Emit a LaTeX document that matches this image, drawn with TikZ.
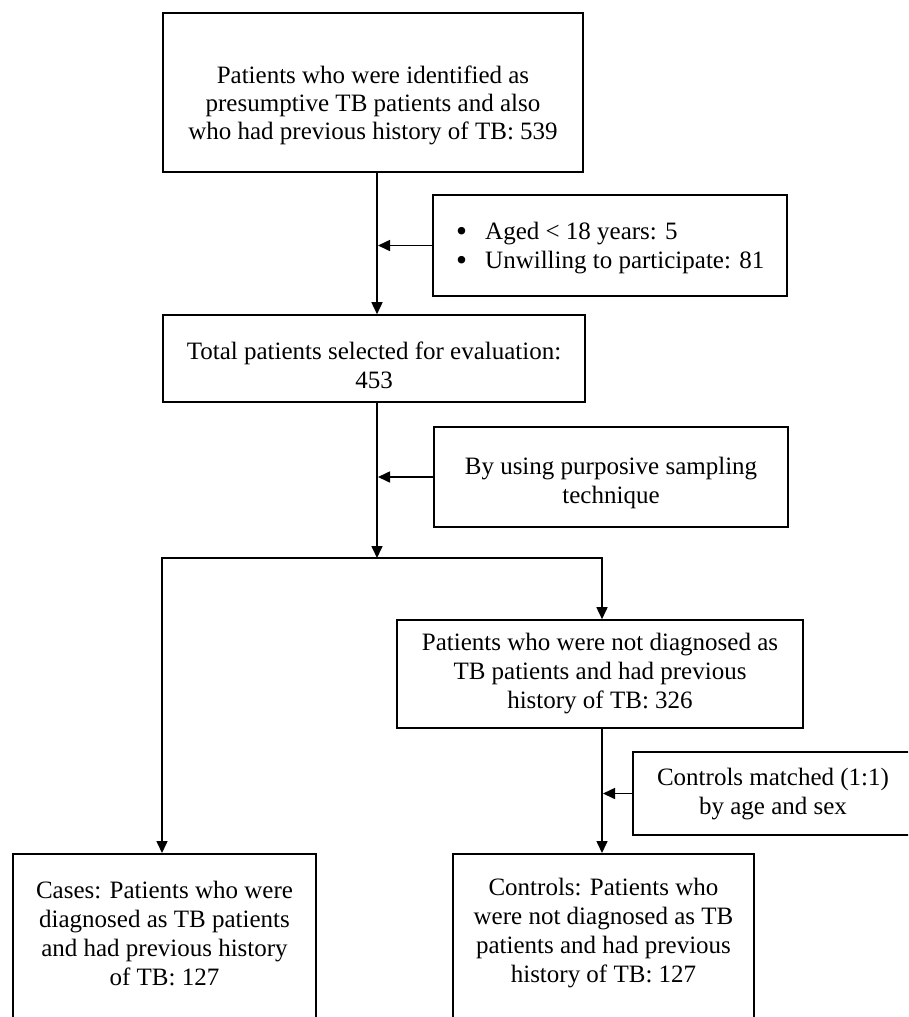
\documentclass[tikz,border=0pt]{standalone}
\usepackage{fontspec}
\setmainfont{Liberation Serif}
\usetikzlibrary{arrows.meta}
\newcommand{\bigbul}{\makebox[29pt][l]{\raisebox{-2pt}{\scalebox{1.25}{\textbullet}}}}
\tikzset{
  boxframe/.style={draw=black, line width=1.6pt, rectangle, inner sep=0pt},
  txt/.style={font=\fontsize{25}{29}\selectfont, align=center, inner sep=0pt},
  arr/.style={line width=1.6pt, -{Triangle[length=12pt,width=11pt]}},
  ln/.style={line width=1.6pt}
}
\begin{document}
\begin{tikzpicture}[x=1pt,y=-1pt]
\clip (0,0) rectangle (908,1017);
\fill[white] (0,0) rectangle (908,1017);
% boxes
\node[boxframe, minimum width=420pt, minimum height=159pt] (b1) at (373,92.5) {};
\node[txt, font=\fontsize{25}{28}\selectfont] (t1) at (373,105) {Patients who were identified as\\presumptive TB patients and also\\who had previous history of TB: 539};
\node[boxframe, minimum width=354pt, minimum height=101pt] (ex) at (610,245.5) {};
\node[txt, align=left, anchor=west] (tex) at (456,248) {\bigbul Aged < 18 years: 5\\\bigbul Unwilling to participate: 81};
\node[boxframe, minimum width=422pt, minimum height=87pt] (b2) at (374,358.5) {};
\node[txt] (t2) at (374,365) {Total patients selected for evaluation:\\453};
\node[boxframe, minimum width=354pt, minimum height=100pt] (pur) at (611,477) {};
\node[txt] (tpur) at (611,483) {By using purposive sampling\\technique};
\node[boxframe, minimum width=406pt, minimum height=108pt] (nd) at (600,674) {};
\node[txt] (tnd) at (600,674) {Patients who were not diagnosed as\\TB patients and had previous\\history of TB: 326};
\node[boxframe, minimum width=285pt, minimum height=83pt] (cm) at (775.5,793.5) {};
\node[txt] (tcm) at (773,794) {Controls matched (1:1)\\by age and sex};
\node[boxframe, minimum width=303pt, minimum height=200pt, anchor=north] (cases) at (164.5,853) {};
\node[txt] (tcases) at (164.5,933) {Cases: Patients who were\\diagnosed as TB patients\\and had previous history\\of TB: 127};
\node[boxframe, minimum width=301pt, minimum height=200pt, anchor=north] (ctrl) at (603.5,853) {};
\node[txt] (tctrl) at (603.5,933) {Controls: Patients who\\were not diagnosed as TB\\patients and had previous\\history of TB: 127};
% connectors
\coordinate (spine) at (377,0);
\coordinate (spineb) at (602,0);
\coordinate (br) at (377,558);
\draw[arr] (b1.south -| spine) -- (b2.north -| spine);
\draw[arr] (ex.west) -- ([xshift=1pt]ex.west -| spine);
\draw[arr] (b2.south -| spine) -- (br);
\draw[arr] (pur.west) -- ([xshift=1pt]pur.west -| spine);
\draw[arr] (br) -| (cases.north -| 162,0);
\draw[arr] (br) -| (nd.north -| spineb);
\draw[arr] (nd.south -| spineb) -- (ctrl.north -| spineb);
\draw[arr] (cm.west) -- ([xshift=1pt]cm.west -| spineb);
\end{tikzpicture}
\end{document}
